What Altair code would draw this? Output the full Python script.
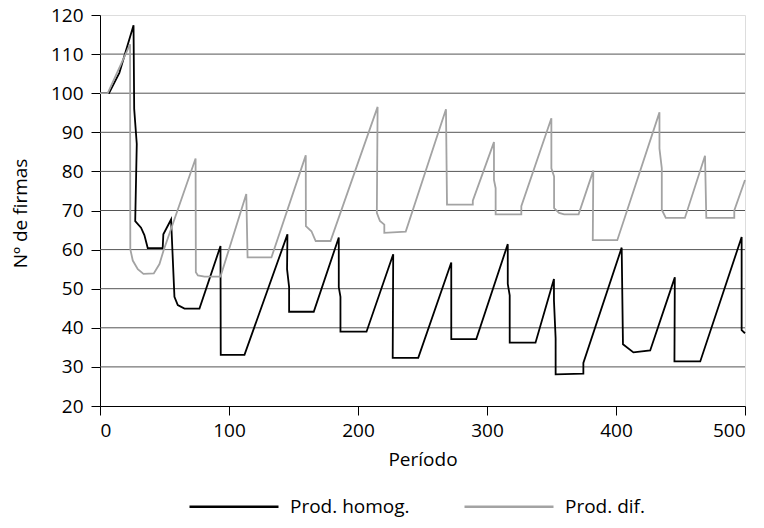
import altair as alt
import pandas as pd

homog_x = [0, 7, 15, 26, 26.5, 28.5, 27.3, 31.8, 34.4, 37, 48.6, 49.1, 55.1, 57.7, 60.3, 65.5, 77.1,
           93.4, 93.6, 112, 145.3, 145, 146.6, 146.6, 165.7, 185.1, 185.1, 186.4, 186.4, 206.6,
           227.3, 226.9, 246.7, 272.3, 272.3, 291.7, 316.1, 316.1, 317.6, 317.6, 337.6, 351.9,
           351.9, 353.2, 353.2, 374.7, 374.7, 404.4, 405.4, 413.5, 426.5, 445.6, 445.3, 465.3,
           497.4, 497.4, 500]
homog_y = [100, 100, 105.2, 117.4, 96, 87, 67.3, 65.6, 63.7, 60.4, 60.4, 63.9, 67.7, 47.9, 45.8, 44.9, 44.9,
           60.9, 33.1, 33.1, 63.9, 55, 50.4, 44.1, 44.1, 63.1, 50.4, 47.9, 39, 39,
           58.8, 32.3, 32.3, 56.7, 37.1, 37.1, 61.4, 51.2, 48.3, 36.2, 36.2, 52.5,
           47, 37.3, 28.1, 28.3, 31, 60.5, 35.8, 33.7, 34.2, 52.9, 31.4, 31.4,
           63.2, 39.4, 38.6]

dif_x = [0, 6, 23.3, 23.5, 25.4, 29.3, 33.7, 41.7, 46.1, 49.2, 74.1, 74.3, 75.9, 81.1, 93.4, 113.4,
         114.4, 132.9, 159.5, 159.6, 163.9, 167.2, 178.7, 215.2, 214.6, 217, 220.4, 220.4, 237,
         268.2, 269, 289, 289, 305.4, 305.4, 306.7, 306.7, 326.6, 326.6, 349.9, 349.9, 352, 352,
         355.9, 359.8, 371, 382.4, 382, 401, 433.7, 433.7, 435.5, 435.5, 438.6, 453.4, 469, 470,
         491.7, 491.7, 500]
dif_y = [100, 100, 112.5, 60.1, 57.2, 55, 53.8, 53.9, 56.3, 59.7, 83.3, 54.2, 53.4, 53.1, 53.1, 74.2,
         58, 58, 84.1, 66, 64.7, 62.2, 62.2, 96.5, 69.4, 67.3, 66.4, 64.3, 64.6,
         95.9, 71.5, 71.5, 72.5, 87.5, 77.8, 75.7, 69, 69, 71.1, 93.6, 80.8, 78.7, 70.6,
         69.4, 69, 69, 80.2, 62.4, 62.4, 95.1, 85.8, 80.8, 70.2, 68.1, 68.1, 84, 68.1,
         68.1, 70, 77.8]

series_names = ["Prod. homog.", "Prod. dif."]
series_colors = ["#000000", "#a3a3a3"]
y_ticks = [20, 30, 40, 50, 60, 70, 80, 90, 100, 110, 120]
x_ticks = [0, 100, 200, 300, 400, 500]
grid_values = [30, 40, 50, 60, 70, 80, 90, 100, 110]

rows = []
for i, (x, y) in enumerate(zip(homog_x, homog_y)):
    rows.append({"periodo": x, "firmas": y, "serie": series_names[0], "i": i})
for i, (x, y) in enumerate(zip(dif_x, dif_y)):
    rows.append({"periodo": x, "firmas": y, "serie": series_names[1], "i": i})
df = pd.DataFrame(rows)
grid_df = pd.DataFrame({"v": grid_values})

FONT = "Open Sans"
FS = 19

xscale = alt.Scale(domain=[0, 500], nice=False)
yscale = alt.Scale(domain=[20, 120], nice=False)

y_axis = alt.Axis(values=y_ticks, title="Nº de firmas", grid=False, domainColor="#000000",
                  tickColor="#000000", tickSize=9, labelPadding=8,
                  labelFont=FONT, titleFont=FONT, labelFontSize=FS, titleFontSize=FS,
                  titleFontWeight="normal", labelColor="#000000", titleColor="#000000",
                  titleX=-80, titleY=198, titleAngle=-90, titleAlign="center",
                  titleBaseline="middle")
x_axis = alt.Axis(values=x_ticks, title="Período", grid=False, domainColor="#000000",
                  tickColor="#000000", tickSize=9, labelPadding=6, titlePadding=10,
                  labelFont=FONT, titleFont=FONT, labelFontSize=FS, titleFontSize=FS,
                  titleFontWeight="normal", labelColor="#000000", titleColor="#000000")

grid = alt.Chart(grid_df).mark_rule(color="#555555", strokeWidth=1).encode(
    y=alt.Y("v:Q", scale=yscale, axis=y_axis)
)

lines = alt.Chart(df).mark_line(strokeWidth=1.8, strokeJoin="miter").encode(
    x=alt.X("periodo:Q", scale=xscale, axis=x_axis),
    y=alt.Y("firmas:Q", scale=yscale, axis=y_axis),
    color=alt.Color("serie:N", scale=alt.Scale(domain=series_names, range=series_colors),
                    legend=alt.Legend(title=None, orient="none", legendX=124.5, legendY=482,
                                      direction="horizontal", symbolType="M-8.9,0H8.9",
                                      symbolSize=100, symbolStrokeWidth=2.5,
                                      labelFont=FONT, labelFontSize=FS, labelColor="#000000",
                                      labelOffset=46.5, columnPadding=49)),
    order="i:Q",
)

chart = alt.layer(grid, lines).properties(
    width=645, height=391,
    autosize=alt.AutoSizeParams(type="none"),
    padding={"left": 92, "top": 7, "right": 11, "bottom": 114},
).configure_view(stroke=None).configure(background="white")

chart.save("out.html", embed_options={"renderer": "svg", "actions": False})
